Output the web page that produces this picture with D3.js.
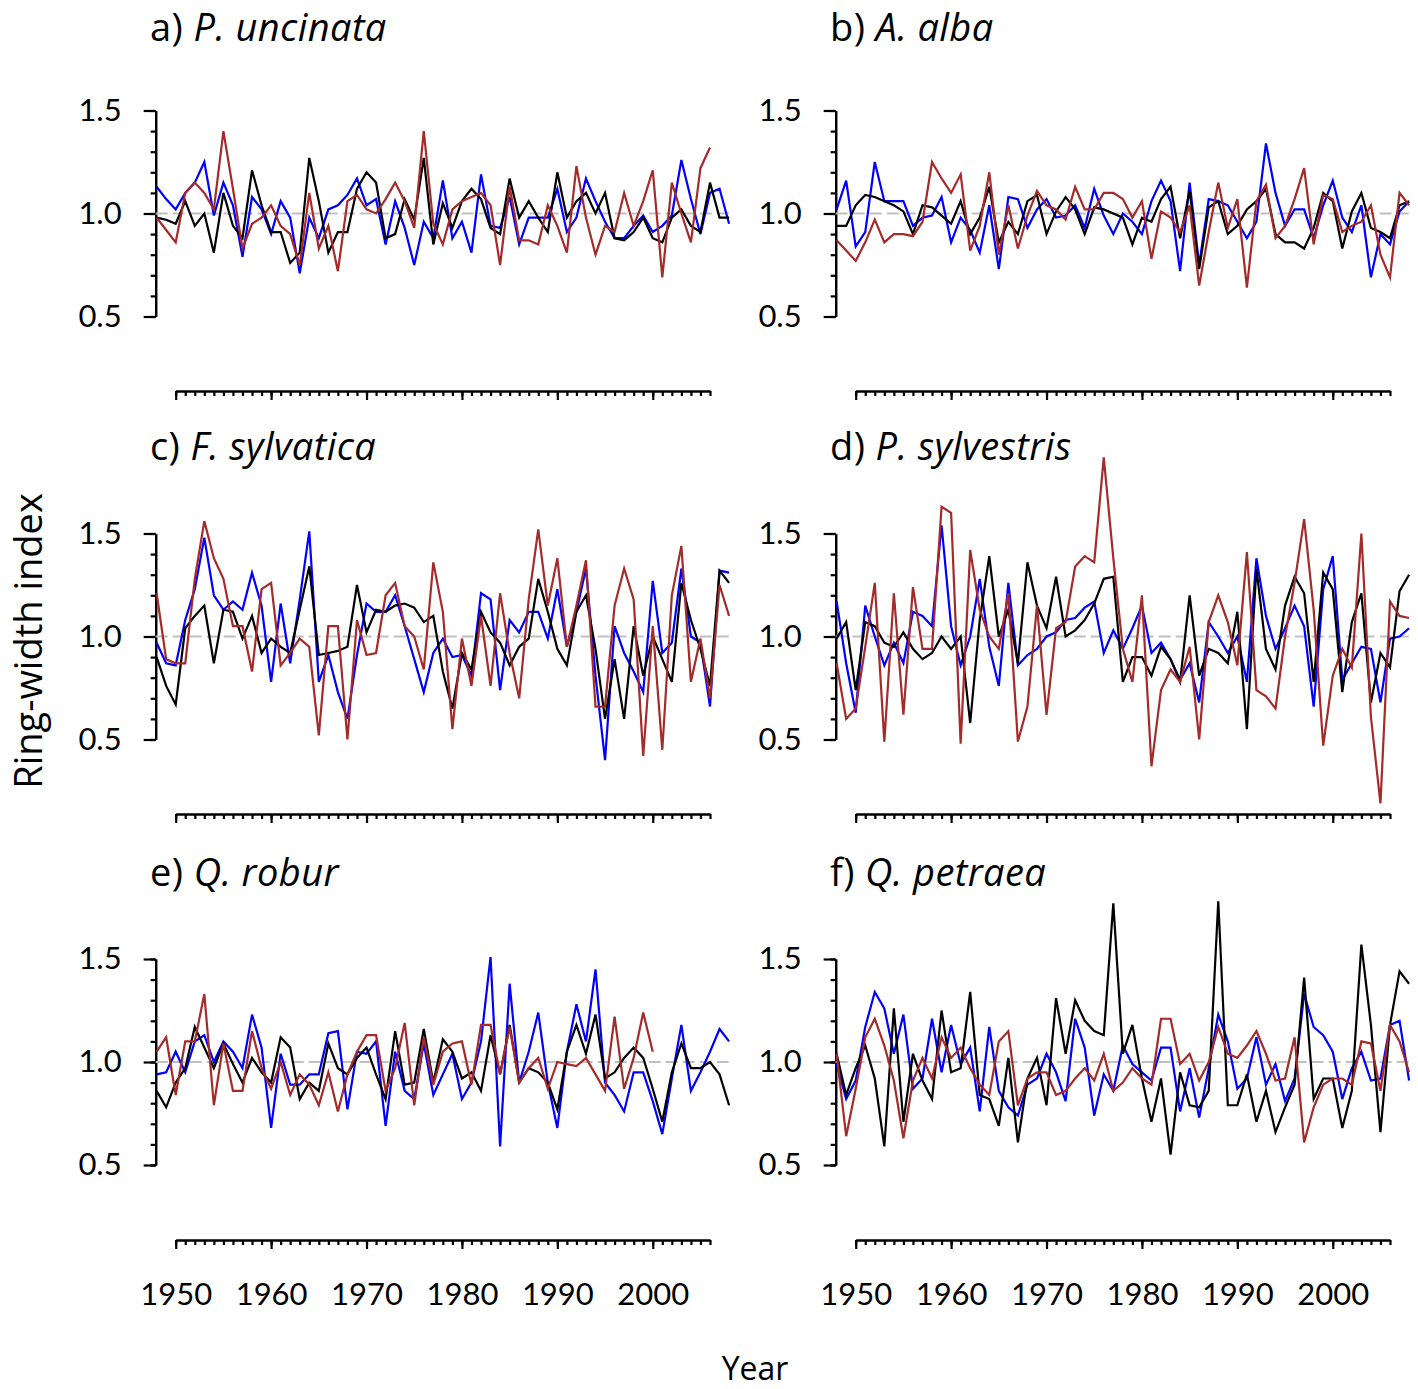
<!DOCTYPE html>
<html><head><meta charset="utf-8">
<script src="https://cdn.jsdelivr.net/npm/d3@7"></script>
<style>
body{margin:0;background:#fff}
svg{display:block}
text{font-family:Lato,"Open Sans",sans-serif;fill:#000}
</style>
</head><body>
<svg id="chart" width="1418" height="1389"></svg>
<script>
// ---------------- data ----------------
const years = d3.range(1948, 2009);
const xTickLabels = [1950, 1960, 1970, 1980, 1990, 2000];
const yTickLabels = [0.5, 1.0, 1.5];
const panelLetters = ["a) ", "b) ", "c) ", "d) ", "e) ", "f) "];
const speciesNames = ["P. uncinata", "A. alba", "F. sylvatica", "P. sylvestris", "Q. robur", "Q. petraea"];
const seriesColors = ["#0000ff", "#000000", "#a52a2a"];

const aBlack = [0.98,0.97,0.95,1.06,0.94,1.00,0.81,1.10,0.94,0.88,
  1.21,1.04,0.91,0.91,0.76,0.81,1.27,1.06,0.81,0.91,
  0.91,1.12,1.20,1.15,0.88,0.90,1.07,0.97,1.27,0.85,
  1.05,0.93,1.06,1.12,1.07,0.93,0.90,1.17,0.98,1.06,
  0.98,0.91,1.20,0.98,1.06,1.10,1.00,1.10,0.88,0.87,
  0.91,0.98,0.88,0.86,0.98,1.02,0.94,0.91,1.15,0.98,0.98];
const aBlue = [1.13,1.07,1.02,1.10,1.15,1.25,0.99,1.15,1.04,0.79,
  1.08,1.02,0.90,1.06,0.98,0.71,0.98,0.88,1.02,1.04,
  1.09,1.17,1.04,1.07,0.85,1.06,0.93,0.75,0.96,0.88,
  1.16,0.88,0.96,0.81,1.19,0.94,0.93,1.08,0.85,0.98,
  0.98,0.98,1.12,0.91,0.98,1.17,1.06,0.96,0.88,0.88,
  0.94,0.99,0.91,0.94,0.99,1.26,1.07,0.90,1.10,1.12,0.95];
const aRed = [0.98,0.92,0.86,1.10,1.15,1.10,1.02,1.40,1.12,0.83,
  0.95,0.98,1.04,0.94,0.90,0.75,1.10,0.83,0.94,0.72,
  1.06,1.09,1.02,1.00,1.07,1.15,1.06,0.93,1.40,0.95,
  0.85,1.02,1.06,1.08,1.10,1.04,0.75,1.13,0.87,0.87,
  0.85,1.04,0.94,0.81,1.23,0.98,0.80,0.94,0.91,1.10,
  0.94,1.06,1.21,0.69,1.15,1.00,0.86,1.22,1.32,null,null];

const bBlack = [0.94,0.94,1.04,1.09,1.08,1.06,1.04,1.01,0.90,1.04,
  1.03,0.99,0.95,1.06,0.90,0.98,1.13,0.86,0.96,0.90,
  1.06,1.09,0.90,1.01,1.08,1.02,0.90,1.03,1.02,1.00,
  0.98,0.85,0.98,0.96,1.07,1.13,0.88,1.11,0.73,1.03,
  1.06,0.90,0.94,1.02,1.06,1.12,0.90,0.86,0.86,0.83,
  0.93,1.10,1.06,0.83,1.01,1.10,0.93,0.91,0.88,1.04,1.06];
const bBlue = [1.02,1.16,0.84,0.91,1.25,1.06,1.06,1.06,0.94,0.98,
  0.99,1.08,0.86,0.98,0.92,0.81,1.04,0.73,1.08,1.07,
  0.93,1.02,1.07,0.98,0.99,1.04,0.93,1.12,0.99,0.90,
  1.00,0.96,0.90,1.06,1.16,1.06,0.72,1.15,0.75,1.07,
  1.06,1.04,0.96,0.88,0.96,1.34,1.10,0.94,1.02,1.02,
  0.88,1.04,1.16,0.98,0.91,1.04,0.69,0.90,0.85,1.01,1.06];
const bRed = [0.87,0.82,0.77,0.86,0.97,0.86,0.90,0.90,0.89,0.96,
  1.25,1.17,1.10,1.19,0.82,0.94,1.20,0.80,1.04,0.83,
  0.99,1.11,1.04,1.02,0.97,1.13,1.02,1.02,1.10,1.10,
  1.07,0.98,1.06,0.78,1.01,0.98,0.91,1.04,0.65,0.91,
  1.15,0.93,1.07,0.64,1.06,1.14,0.88,0.94,1.07,1.22,
  0.85,1.09,1.07,0.91,0.94,0.96,1.04,0.80,0.69,1.10,1.04];

const cBlack = [0.90,0.76,0.67,1.04,1.10,1.15,0.87,1.13,1.12,0.99,
  1.10,0.92,0.99,0.95,0.92,1.13,1.34,0.91,0.92,0.93,
  0.95,1.25,1.02,1.13,1.12,1.15,1.16,1.14,1.07,1.10,
  0.83,0.65,0.92,0.84,1.12,1.02,0.97,0.86,0.95,0.99,
  1.28,1.12,0.94,0.86,1.12,1.20,0.94,0.60,0.89,0.60,
  1.05,0.81,1.00,0.89,0.78,1.26,1.08,0.94,0.76,1.32,1.26];
const cBlue = [0.97,0.87,0.86,1.08,1.23,1.48,1.20,1.13,1.17,1.13,
  1.31,1.15,0.78,1.16,0.87,1.18,1.51,0.78,0.91,0.73,
  0.60,0.91,1.16,1.12,1.12,1.20,1.05,0.89,0.73,0.92,
  0.99,0.90,0.91,0.81,1.21,1.18,0.74,1.08,1.02,1.12,
  1.12,0.99,1.23,0.95,1.12,1.33,0.81,0.40,1.05,0.92,
  0.83,0.73,1.27,0.92,0.97,1.33,1.00,0.97,0.66,1.32,1.31];
const cRed = [1.21,0.89,0.87,0.87,1.28,1.56,1.38,1.28,1.05,1.05,
  0.83,1.23,1.26,0.86,0.92,0.99,0.95,0.52,1.05,1.05,
  0.50,1.08,0.91,0.92,1.20,1.26,1.05,1.00,0.84,1.36,
  1.12,0.55,0.99,0.76,1.10,0.76,1.21,0.92,0.70,1.18,
  1.52,1.15,1.38,0.95,1.15,1.37,0.66,0.66,1.15,1.33,
  1.18,0.42,1.05,0.45,1.20,1.44,0.78,0.99,0.70,1.25,1.10];

const dBlack = [0.99,1.07,0.74,1.07,1.05,0.97,0.95,1.02,0.94,0.89,
  0.92,1.00,0.94,1.00,0.58,1.08,1.39,1.00,1.13,0.87,
  1.36,1.15,1.04,1.29,1.00,1.03,1.08,1.16,1.28,1.29,
  0.78,0.90,0.90,0.81,0.95,0.89,0.78,1.20,0.81,0.94,
  0.92,0.87,1.12,0.55,1.33,0.94,0.84,1.15,1.29,1.21,
  0.78,1.31,1.23,0.73,1.07,1.21,0.68,0.92,0.85,1.22,1.30];
const dBlue = [1.17,0.87,0.63,1.15,1.00,0.86,0.97,0.87,1.12,1.10,
  1.05,1.54,1.05,0.86,1.00,1.28,0.95,0.76,1.26,0.86,
  0.91,0.94,1.00,1.02,1.08,1.09,1.14,1.17,0.92,1.03,
  0.94,1.04,1.15,0.92,0.97,0.89,0.79,0.87,0.68,1.07,
  1.00,0.92,1.00,0.78,1.38,1.10,0.94,1.04,1.15,1.05,
  0.66,1.23,1.39,0.79,0.87,0.95,0.94,0.68,0.99,1.00,1.04];
const dRed = [0.87,0.60,0.65,0.95,1.26,0.49,1.21,0.62,1.24,0.94,
  0.94,1.63,1.60,0.48,1.42,1.13,1.00,0.94,1.21,0.49,
  0.66,1.15,0.62,1.04,1.07,1.34,1.39,1.36,1.87,1.38,
  0.94,0.78,1.20,0.37,0.74,0.84,0.78,0.95,0.50,1.07,
  1.20,1.07,0.86,1.41,0.74,0.71,0.65,1.00,1.26,1.57,
  1.13,0.47,0.81,0.94,0.85,1.50,0.61,0.19,1.17,1.10,1.09];

const eBlack = [0.86,0.78,0.90,0.97,1.17,1.07,0.97,1.09,0.99,0.90,
  1.02,0.95,0.90,1.12,1.07,0.82,0.90,0.86,1.09,0.97,
  0.94,1.02,1.07,0.94,0.82,1.15,0.89,0.90,1.16,0.90,
  1.11,1.05,0.92,0.95,0.86,1.13,0.94,1.18,0.90,0.97,
  0.95,0.90,0.77,1.05,1.18,1.04,1.23,0.92,0.95,1.02,
  1.07,1.02,0.87,0.71,0.95,1.09,0.97,0.97,1.00,0.94,0.79];
const eBlue = [0.94,0.95,1.05,0.95,1.10,1.13,1.00,1.10,1.05,0.97,
  1.23,1.07,0.68,1.04,0.89,0.89,0.94,0.94,1.14,1.15,
  0.77,1.05,1.04,1.10,0.69,1.05,0.86,0.82,1.09,0.84,
  0.94,1.04,0.82,0.90,1.10,1.51,0.59,1.38,0.90,1.05,
  1.24,0.90,0.68,1.05,1.28,1.10,1.45,0.90,0.84,0.76,
  0.95,0.95,0.81,0.65,0.92,1.18,0.86,0.95,1.05,1.16,1.10];
const eRed = [1.05,1.12,0.84,1.10,1.10,1.33,0.79,1.09,0.86,0.86,
  1.15,0.97,0.87,1.00,0.84,0.94,0.89,0.79,0.95,0.76,
  0.94,1.05,1.13,1.13,0.86,0.97,1.19,0.79,1.12,0.89,
  1.05,1.09,1.10,0.89,1.18,1.18,0.94,1.17,0.90,0.97,
  1.02,0.87,1.00,0.99,0.98,1.02,0.94,0.86,1.22,0.87,
  1.02,1.24,1.05,null,null,null,null,null,null,null,null];

const fBlack = [1.04,0.84,0.97,1.08,0.92,0.59,1.26,0.71,1.04,0.91,
  0.82,1.25,0.95,0.97,1.34,0.84,0.82,0.69,1.02,0.61,
  0.92,1.02,0.79,1.31,1.04,1.30,1.20,1.15,1.13,1.77,
  1.04,1.18,0.92,0.71,0.92,0.55,0.95,0.79,0.78,0.86,
  1.78,0.79,0.79,0.94,0.71,0.86,0.66,0.78,0.89,1.41,
  0.82,0.92,0.92,0.68,0.86,1.57,1.18,0.66,1.18,1.44,1.38];
const fBlue = [0.99,0.82,0.91,1.17,1.34,1.26,1.04,1.23,0.87,0.92,
  1.21,0.95,1.18,0.99,1.07,0.76,1.17,0.86,0.78,0.74,
  0.89,0.92,1.04,0.95,0.81,1.21,1.07,0.74,0.94,0.86,
  1.08,0.99,0.95,0.91,1.07,1.07,0.76,0.97,0.73,0.97,
  1.23,1.10,0.87,0.92,1.12,0.89,0.99,0.81,0.92,1.33,
  1.17,1.13,1.05,0.82,0.97,1.05,0.91,0.92,1.18,1.20,0.91];
const fRed = [1.04,0.64,0.87,1.12,1.21,1.08,0.91,0.63,0.91,1.02,
  0.92,1.12,1.02,1.07,0.97,0.89,0.84,1.10,1.15,0.79,
  0.92,0.95,0.95,0.84,0.86,0.92,0.97,0.91,1.04,0.86,
  0.90,0.97,0.92,0.89,1.21,1.21,0.99,1.04,0.91,1.00,
  1.17,1.04,1.02,1.08,1.15,1.04,0.91,0.92,1.12,0.61,
  0.78,0.89,0.92,0.92,0.89,1.10,1.09,0.86,1.18,1.10,0.95];

const panelSeries = [
  [aBlue, aBlack, aRed], [bBlue, bBlack, bRed],
  [cBlue, cBlack, cRed], [dBlue, dBlack, dRed],
  [eBlue, eBlack, eRed], [fBlue, fBlack, fRed]
];

// ---------------- layout ----------------
const colOffset = [0, 680];
const rows = [
  {top: 110.5, bottom: 316.5, axisY: 391, titleY: 41},
  {top: 533.5, bottom: 739.5, axisY: 814, titleY: 460},
  {top: 959, bottom: 1165, axisY: 1240, titleY: 886}
];

const svg = d3.select("#chart");

panelSeries.forEach((series, p) => {
  const col = p % 2, row = Math.floor(p / 2);
  const R = rows[row], dx = colOffset[col];
  const x = d3.scaleLinear().domain([1950, 2006]).range([175.7 + dx, 710 + dx]);
  const y = d3.scaleLinear().domain([0.5, 1.5]).range([R.bottom, R.top]);
  const g = svg.append("g");

  // title
  const t = g.append("text").attr("x", 150 + dx).attr("y", R.titleY)
    .style("font-family", "'Open Sans'")
    .style("font-size", "38px")
    .style("letter-spacing", "0.4px");
  t.append("tspan").text(panelLetters[p]);
  t.append("tspan").style("font-style", "italic").text(speciesNames[p]);

  // y axis
  const yAxisX = x(1947.9);
  const yMinor = d3.axisLeft(y).tickValues(d3.range(5, 16).map(v => v / 10))
    .tickSize(5).tickSizeOuter(0).tickFormat("");
  const yMajor = d3.axisLeft(y).tickValues(yTickLabels)
    .tickSize(12).tickSizeOuter(0).tickPadding(22).tickFormat(d3.format(".1f"));
  [yMinor, yMajor].forEach(ax => {
    const a = g.append("g").attr("transform", `translate(${yAxisX},0)`).call(ax);
    a.selectAll("path,line").attr("stroke", "#000").attr("stroke-width", 2.2);
    a.selectAll("text").style("font-size", "31px").style("font-family", "Lato").attr("fill", "#000");
  });

  // x axis
  const xMinor = d3.axisBottom(x).tickValues(d3.range(1950, 2007))
    .tickSize(5).tickSizeOuter(0).tickFormat("");
  const xMajor = d3.axisBottom(x).tickValues(xTickLabels)
    .tickSize(9).tickSizeOuter(0).tickPadding(34)
    .tickFormat(row === 2 ? d3.format("d") : "");
  [xMinor, xMajor].forEach(ax => {
    const a = g.append("g").attr("transform", `translate(0,${R.axisY})`).call(ax);
    a.selectAll("path,line").attr("stroke", "#000").attr("stroke-width", 2.2);
    a.selectAll("text").style("font-size", "31px").style("font-family", "Lato").attr("fill", "#000");
  });

  // reference line at 1.0
  g.append("line")
    .attr("x1", yAxisX).attr("x2", x(2008.3))
    .attr("y1", y(1)).attr("y2", y(1))
    .attr("stroke", "#c0c0c0").attr("stroke-width", 2)
    .attr("stroke-dasharray", "12,5");

  // series
  const line = d3.line().defined(d => d != null)
    .x((d, i) => x(years[i])).y(d => y(d));
  series.forEach((vals, s) => {
    g.append("path").datum(vals)
      .attr("d", line)
      .attr("fill", "none")
      .attr("stroke", seriesColors[s])
      .attr("stroke-width", 2.2)
      .attr("stroke-linejoin", "miter");
  });
});

// axis titles
svg.append("text")
  .attr("transform", "translate(42,641) rotate(-90)")
  .attr("text-anchor", "middle")
  .style("font-family", "'Open Sans'")
  .style("font-size", "38px")
  .text("Ring-width index");
svg.append("text")
  .attr("x", 755).attr("y", 1380)
  .attr("text-anchor", "middle")
  .style("font-family", "'Open Sans'")
  .style("font-size", "32px")
  .text("Year");
</script>
</body></html>
